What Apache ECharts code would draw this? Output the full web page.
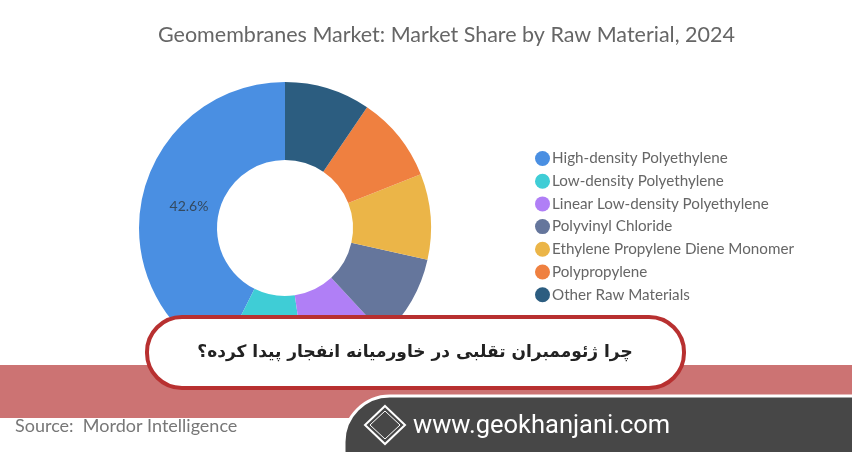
<!DOCTYPE html>
<html>
<head>
<meta charset="utf-8">
<script src="https://cdn.jsdelivr.net/npm/echarts@6/dist/echarts.min.js"></script>
<style>
html,body{margin:0;padding:0;background:#fff;}
#chart{width:852px;height:452px;}
</style>
</head>
<body>
<div id="chart"></div>
<script>
const categories = ['High-density Polyethylene','Low-density Polyethylene','Linear Low-density Polyethylene','Polyvinyl Chloride','Ethylene Propylene Diene Monomer','Polypropylene','Other Raw Materials'];
const shares = [42.6, 9.7, 9.6, 9.6, 9.5, 9.5, 9.5];
const colors = ['#4a8fe2','#3fcdd6','#b07ff6','#65769c','#ebb548','#ef8040','#2c5d80'];
const titleText = 'Geomembranes Market: Market Share by Raw Material, 2024';
const sourceText = 'Source:  Mordor Intelligence';
const bannerText = 'چرا ژئوممبران تقلبی در خاورمیانه انفجار پیدا کرده؟';
const siteText = 'www.geokhanjani.com';

const chart = echarts.init(document.getElementById('chart'), null, {renderer:'canvas'});
const font = 'Lato, "Open Sans", sans-serif';

// logo grid cells
const logoCells = [];
for (let r = 0; r < 3; r++) {
  for (let c = 0; c < 4; c++) {
    if ((r + c) % 2 === 0) {
      logoCells.push({type:'rect', shape:{x:376 + c*6, y:428 + r*6, width:5, height:5}, style:{fill:'#fff'}});
    } else {
      logoCells.push({type:'rect', shape:{x:376 + c*6, y:428 + r*6, width:5, height:5}, style:{fill:'none', stroke:'#fff', lineWidth:1}});
    }
  }
}

const option = {
  backgroundColor:'#fff',
  title:{
    text:titleText, left:153, top:19,
    textStyle:{fontFamily:font, fontSize:21.5, fontWeight:'normal', color:'#666'}
  },
  legend:{
    orient:'vertical', left:530, top:146, itemGap:7.7, itemWidth:15, itemHeight:15, icon:'circle',
    textStyle:{fontFamily:font, fontSize:15.2, color:'#666', padding:[0,0,0,-3]},
    data:categories
  },
  series:[{
    type:'pie', center:[285,228], radius:[68,146], clockwise:false, startAngle:90,
    avoidLabelOverlap:false, silent:true,
    label:{show:false},
    labelLine:{show:false},
    labelLayout:{dx:11, dy:4},
    data:categories.map((n,i)=>({
      name:n, value:shares[i], itemStyle:{color:colors[i]},
      label: i===0 ? {show:true, position:'inside', formatter:'{c}%', color:'#34495e', fontSize:14, fontFamily:font} : {show:false}
    }))
  }],
  graphic:[
    {type:'rect', z:100, shape:{x:0, y:365, width:852, height:53}, style:{fill:'#cc7373'}},
    {type:'rect', z:101, shape:{x:147, y:317, width:537, height:71, r:35}, style:{fill:'#fff', stroke:'#b83030', lineWidth:4}},
    {type:'text', z:102, style:{text:bannerText, x:415, y:353, align:'center', verticalAlign:'middle', font:'bold 17px "DejaVu Sans", "Noto Sans", sans-serif', fill:'#222'}},
    {type:'rect', z:103, shape:{x:344, y:396, width:560, height:100, r:46}, style:{fill:'#474747', stroke:'#fff', lineWidth:3}},
    {type:'text', z:104, style:{text:siteText, x:413, y:427, verticalAlign:'middle', font:'25.5px Roboto, "Open Sans", sans-serif', fill:'#fff'}},
    {type:'polygon', z:104, shape:{points:[[385,406],[405,425],[385,444],[365,425]]}, style:{fill:'none', stroke:'#fff', lineWidth:2}},
    {type:'polygon', z:104, shape:{points:[[385,411],[400,425],[385,439],[370,425]]}, style:{fill:'none', stroke:'#fff', lineWidth:1}},
    {type:'group', z:105, children:logoCells},
    {type:'text', z:104, style:{text:sourceText, x:15, y:426, verticalAlign:'middle', font:'18px ' + font, fill:'#777'}}
  ]
};
chart.setOption(option);
</script>
</body>
</html>
